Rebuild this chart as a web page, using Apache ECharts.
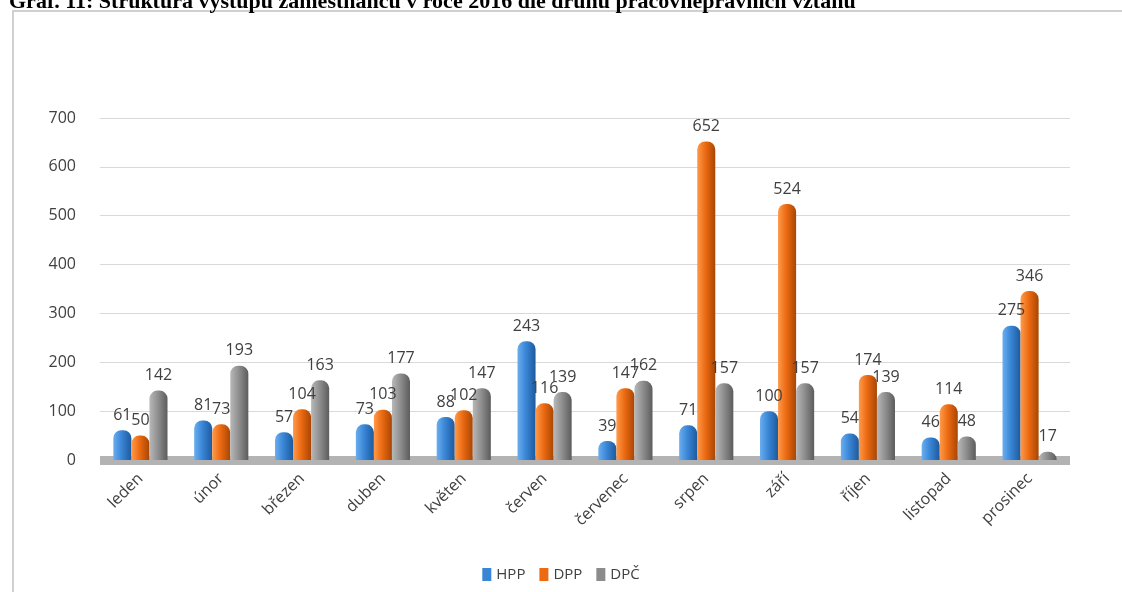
<!DOCTYPE html>
<html>
<head>
<meta charset="utf-8">
<script src="https://cdn.jsdelivr.net/npm/echarts@6/dist/echarts.min.js"></script>
<style>
  html, body { margin: 0; padding: 0; background: #fff; }
  #chart { width: 1122px; height: 592px; }
</style>
</head>
<body>
<div id="chart"></div>
<script>
// Months of 2016
const months = ['leden', 'únor', 'březen', 'duben', 'květen', 'červen',
  'červenec', 'srpen', 'září', 'říjen', 'listopad', 'prosinec'];

// Departures by type of employment relationship
const hpp = [61, 81, 57, 73, 88, 243, 39, 71, 100, 54, 46, 275];
const dpp = [50, 73, 104, 103, 102, 116, 147, 652, 524, 174, 114, 346];
const dpc = [142, 193, 163, 177, 147, 139, 162, 157, 157, 139, 48, 17];

const seriesNames = ['HPP', 'DPP', 'DPČ'];
const yTicks = [0, 100, 200, 300, 400, 500, 600, 700];

// Cylinder-like shading: light left edge, dark right edge
function shade(light, mid, dark) {
  return new echarts.graphic.LinearGradient(0, 0, 1, 0, [
    { offset: 0, color: light },
    { offset: 0.45, color: mid },
    { offset: 1, color: dark }
  ]);
}
const fills = [
  shade('#6aaef0', '#3a86d6', '#1d5a9e'),
  shade('#ff9a4a', '#ec6a12', '#a84604'),
  shade('#b8b8b8', '#909090', '#5c5c5c')
];
const legendColors = ['#3a86d6', '#ec6a12', '#8c8c8c'];

const labelStyle = {
  show: true, position: 'top', distance: 7,
  color: '#404040', fontSize: 16, fontFamily: 'Open Sans'
};

const chart = echarts.init(document.getElementById('chart'));
chart.setOption({
  backgroundColor: '#ffffff',
  animation: false,
  title: {
    text: 'Graf. 11: Struktura výstupu zaměstnanců v roce 2016 dle druhu pracovněprávních vztahů',
    left: 4, top: -14,
    textStyle: { fontFamily: 'Liberation Serif', fontWeight: 'bold', fontSize: 22, color: '#000' }
  },
  graphic: [{
    type: 'rect', z: -10, silent: true,
    shape: { x: 13, y: 11, width: 1130, height: 600 },
    style: { fill: '#fff', stroke: '#d0d0d0', lineWidth: 2 }
  }],
  legend: {
    bottom: 5, left: 'center',
    icon: 'rect', itemWidth: 9, itemHeight: 13, itemGap: 14,
    textStyle: { color: '#404040', fontSize: 15, fontFamily: 'Open Sans' },
    data: seriesNames.map((n, i) => ({ name: n, itemStyle: { color: legendColors[i] } }))
  },
  grid: { left: 100, right: 52, top: 118, bottom: 132 },
  xAxis: {
    type: 'category',
    data: months,
    axisLine: { show: true, lineStyle: { color: '#b3b3b3', width: 9, cap: 'butt' } },
    axisTick: { show: false },
    axisLabel: {
      rotate: 45, margin: 16, color: '#404040', fontSize: 16,
      fontFamily: 'Open Sans'
    }
  },
  yAxis: {
    type: 'value',
    min: yTicks[0], max: yTicks[yTicks.length - 1], interval: 100,
    axisLine: { show: false },
    axisTick: { show: false },
    axisLabel: { color: '#404040', fontSize: 16, fontFamily: 'Open Sans', margin: 24 },
    splitLine: { lineStyle: { color: '#d9d9d9', width: 1 } }
  },
  series: [hpp, dpp, dpc].map((vals, i) => ({
    name: seriesNames[i],
    type: 'bar',
    z: 3,
    data: vals,
    barGap: '0%',
    barCategoryGap: '33%',
    itemStyle: { color: fills[i], borderRadius: [8, 8, 0, 0] },
    label: labelStyle
  }))
});
</script>
</body>
</html>
